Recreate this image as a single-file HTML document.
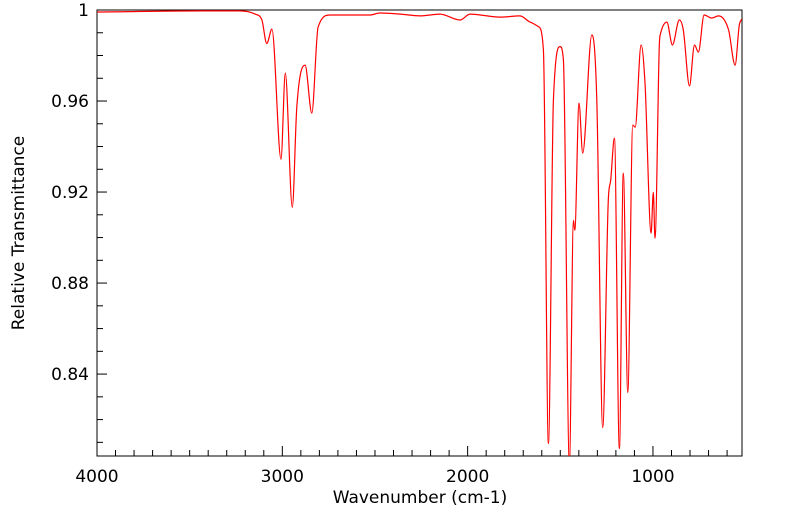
<!DOCTYPE html>
<html><head><meta charset="utf-8"><style>
body{margin:0;background:#fff;}
svg{display:block;font-family:"DejaVu Sans","Liberation Sans",sans-serif;}
</style></head><body>
<svg id="chart" width="799" height="516" viewBox="0 0 799 516">
<rect x="97" y="10" width="645" height="446" fill="#fff" stroke="#000" stroke-width="1"/>
<g id="ticks"></g>
<path id="spectrum" fill="none" stroke="#ff0000" stroke-width="1.2"/>
<text x="420" y="503" text-anchor="middle" font-size="17">Wavenumber (cm-1)</text>
<text transform="translate(24,233) rotate(-90)" text-anchor="middle" font-size="17">Relative Transmittance</text>
</svg>
<script>
const wavenumbers=[4000,3444,3228,3147,3110,3084,3056,3007,2984,2946,2922,2877,2841,2807,2742,2527,2473,2365,2257,2149,2041,1987,1825,1717,1663,1618,1591,1564,1537,1501,1483,1451,1429,1422,1399,1379,1330,1303,1271,1241,1228,1208,1181,1160,1136,1109,1096,1064,1043,1010,998,989,965,958,925,895,858,836,803,776,755,724,683,646,592,557,534,521];
const transmittance=[0.9991,0.9996,0.9996,0.9982,0.9956,0.9853,0.9916,0.9344,0.9723,0.9133,0.9573,0.9758,0.9547,0.9925,0.9978,0.9978,0.9987,0.9982,0.9974,0.9982,0.9956,0.9982,0.9969,0.9974,0.9947,0.9927,0.9824,0.8095,0.9604,0.9839,0.978,0.8007,0.9076,0.9032,0.9591,0.9371,0.989,0.9604,0.8165,0.9164,0.9252,0.9437,0.8073,0.9283,0.8319,0.9494,0.9485,0.9846,0.9679,0.9019,0.9199,0.8997,0.9855,0.9899,0.9947,0.9846,0.9956,0.9912,0.9666,0.9846,0.9815,0.9978,0.9965,0.9974,0.9912,0.9758,0.9934,0.996];
const xTickValues=[4000,3000,2000,1000];
const xTickLabels=["4000","3000","2000","1000"];
const yTickValues=[1,0.96,0.92,0.88,0.84];
const yTickLabels=["1","0.96","0.92","0.88","0.84"];
const X0=97,X1=742,Y0=10,Y1=456,WMAX=4000,WMIN=519.5,TMAX=1,TMIN=0.804;
function xs(w){return X0+(WMAX-w)/(WMAX-WMIN)*(X1-X0);}
function ys(t){return Y0+(TMAX-t)/(TMAX-TMIN)*(Y1-Y0);}
const NS="http://www.w3.org/2000/svg";
const g=document.getElementById('ticks');
function line(x1,y1,x2,y2){const l=document.createElementNS(NS,'line');l.setAttribute('x1',x1);l.setAttribute('y1',y1);l.setAttribute('x2',x2);l.setAttribute('y2',y2);l.setAttribute('stroke','#000');


g.appendChild(l);}
function txt(x,y,s,anchor){const t=document.createElementNS(NS,'text');t.setAttribute('x',x);t.setAttribute('y',y);t.setAttribute('font-size','17');t.setAttribute('text-anchor',anchor);t.textContent=s;


g.appendChild(t);}
for(let w=4000;w>WMIN;w-=100){const x=xs(w);const major=w%1000===0;line(x,Y1,x,Y1-(major?10:6));}
xTickValues.forEach((v,i)=>txt(xs(v),Y1+26,xTickLabels[i],'middle'));
for(let k=0;k<=19;k++){const t=1-k*0.01;if(t<TMIN)break;const y=ys(t);const major=k%4===0;line(X0,y,X0+(major?10:6),y);}
yTickValues.forEach((v,i)=>txt(X0-8,ys(v)+6,yTickLabels[i],'end'));
// monotone cubic path
const P=wavenumbers.map((w,i)=>[xs(w),ys(transmittance[i])]);
const n=P.length,d=[],m=[];
for(let i=0;i<n-1;i++)d.push((P[i+1][1]-P[i][1])/(P[i+1][0]-P[i][0]));
for(let i=0;i<n;i++){if(i===0)m.push(d[0]);else if(i===n-1)m.push(d[n-2]);else m.push(d[i-1]*d[i]<=0?0:(d[i-1]+d[i])/2);}
for(let i=0;i<n-1;i++){if(d[i]===0){m[i]=0;m[i+1]=0;continue;}const a=m[i]/d[i],b=m[i+1]/d[i],s=a*a+b*b;if(s>9){const t=3/Math.sqrt(s);m[i]=t*a*d[i];m[i+1]=t*b*d[i];}}
let path='M'+P[0][0].toFixed(1)+','+P[0][1].toFixed(1);
for(let i=0;i<n-1;i++){const h=(P[i+1][0]-P[i][0])/3;path+=' C'+(P[i][0]+h).toFixed(1)+','+(P[i][1]+m[i]*h).toFixed(1)+' '+(P[i+1][0]-h).toFixed(1)+','+(P[i+1][1]-m[i+1]*h).toFixed(1)+' '+P[i+1][0].toFixed(1)+','+P[i+1][1].toFixed(1);}
const sp=document.getElementById('spectrum');
sp.setAttribute('d',path);
const cp=document.createElementNS(NS,'clipPath');cp.setAttribute('id','clip');const cr=document.createElementNS(NS,'rect');cr.setAttribute('x',X0);cr.setAttribute('y',Y0);cr.setAttribute('width',X1-X0);cr.setAttribute('height',Y1-Y0);cp.appendChild(cr);document.getElementById('chart').appendChild(cp);
sp.setAttribute('clip-path','url(#clip)');
</script>
</body></html>
